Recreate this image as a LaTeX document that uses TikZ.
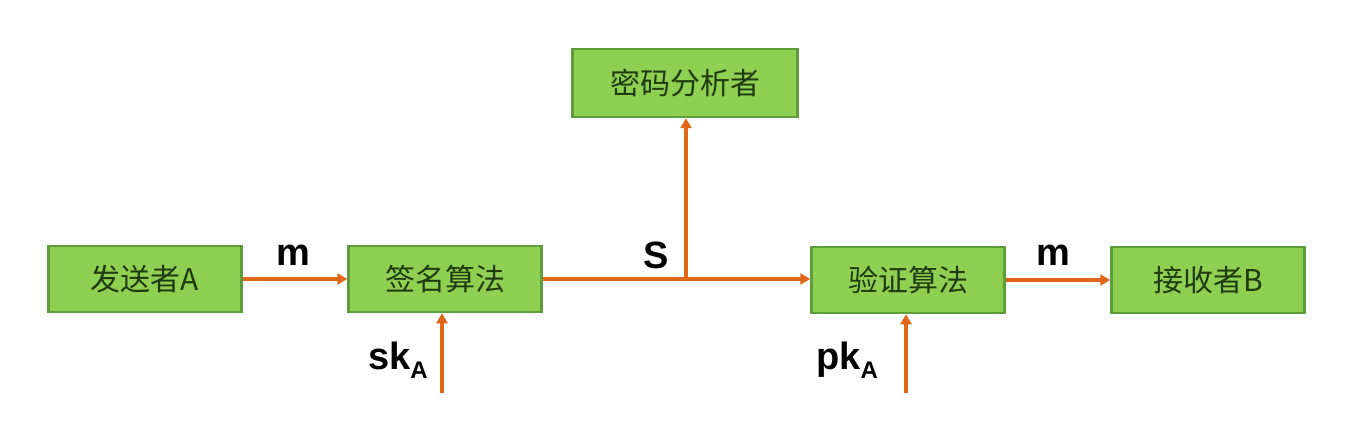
\documentclass[tikz,border=0pt]{standalone}
\usepackage{fontspec}
\setmainfont{Liberation Sans}
\newfontfamily\cjk{Noto Sans CJK SC}
\usetikzlibrary{arrows.meta}
\definecolor{boxfill}{HTML}{8FCF52}
\definecolor{boxdraw}{HTML}{5E9E3A}
\definecolor{boxtext}{HTML}{1F3B10}
\definecolor{arr}{HTML}{E0661A}
\newcommand{\lblsub}[1]{{\fontsize{24}{26}\selectfont\raisebox{-9pt}{#1}}}
\tikzset{
  box/.style={draw=boxdraw, line width=2.5pt, fill=boxfill, minimum width=193pt, minimum height=66pt, inner sep=0pt, font=\cjk\fontsize{30}{32}\selectfont, text=boxtext},
  flow/.style={draw=arr, line width=4pt, -{Triangle[length=10pt,width=11pt]}},
  lbl/.style={font=\bfseries\fontsize{38}{40}\selectfont, text=black}
}
\begin{document}
\begin{tikzpicture}[x=1pt,y=-1pt]
\useasboundingbox[fill=white] (0,0) rectangle (1366,433);
\node[box] (A) at (145,279) {发送者A};
\node[box] (sign) at (445,279) {签名算法};
\node[box, minimum width=225pt, minimum height=68pt] (ana) at (685,83) {密码分析者};
\node[box] (ver) at (908,280) {验证算法};
\node[box] (B) at (1208,280) {接收者B};
\coordinate (split) at (686,279);
\coordinate (sk) at (442,393);
\coordinate (pk) at (906,393);
\draw[flow] (A.east |- 0,279) -- (sign.west |- 0,279);
\draw[draw=arr, line width=4pt] (sign.east |- 0,279) -- (split);
\draw[flow] (split) -- (ver.west |- split);
\draw[flow] (split) -- (split |- ana.south);
\draw[flow] (ver.east) -- (B.west);
\draw[flow] (sk) -- (sk |- sign.south);
\draw[flow] (pk) -- (pk |- ver.south);
\node[lbl] (m1) at (293,255) {m};
\node[lbl] (s) at (656,255) {S};
\node[lbl] (m2) at (1053,255) {m};
\node[lbl] (skl) at (398,360) {sk\lblsub{A}};
\node[lbl] (pkl) at (847,360) {pk\lblsub{A}};
\end{tikzpicture}
\end{document}
